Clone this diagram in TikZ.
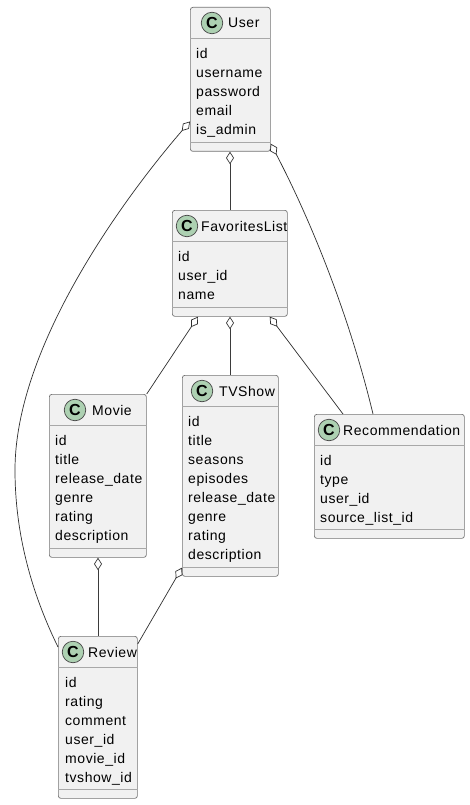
\documentclass[tikz,border=0pt]{standalone}
\usepackage{fontspec}
\setmainfont{Liberation Sans}[LetterSpace=4]
\usetikzlibrary{arrows.meta,calc}
\definecolor{boxfill}{HTML}{F1F1F1}
\definecolor{edge}{HTML}{181818}
\definecolor{rule}{HTML}{A8A8A8}
\definecolor{spot}{HTML}{ADD1B2}
\tikzset{
  x=1pt,y=-1pt,
  classbox/.style={draw=edge!60,line width=0.7pt,fill=boxfill,rounded corners=2.5pt,anchor=north west,inner sep=0pt},
  rulex/.style={draw=rule,line width=1.1pt},
  rulethin/.style={draw=rule,line width=1pt},
  spotc/.style={circle,draw=edge!80,line width=0.7pt,fill=spot,minimum size=21.5pt,inner sep=0pt,font=\fontsize{16}{16}\selectfont\bfseries},
  title/.style={anchor=base west,inner sep=0pt,font=\fontsize{14}{14}\selectfont},
  field/.style={anchor=base west,inner sep=0pt,font=\fontsize{14}{14}\selectfont},
  link/.style={draw=edge!90,line width=0.7pt},
  vlink/.style={draw=edge!85,line width=1pt},
  agg/.style={{Diamond[open,fill=white,length=12.5pt,width=8pt,line width=0.7pt]}-},
}
\newcommand{\classnode}[9]{%
  % #1 name, #2 left, #3 top, #4 width, #5 height, #6 title, #7 spot x, #8 footer line offset, #9 title x
  \node[classbox,minimum width=#4pt,minimum height=#5pt] (#1) at (#2,#3) {};
  \draw[rulex] ($(#1.north west)+(0,31.5)$) -- ($(#1.north east)+(0,31.5)$);
  \draw[rulethin] ($(#1.north west)+(0,#8)$) -- ($(#1.north east)+(0,#8)$);
  \node[spotc] (#1spot) at ($(#1.north west)+(#7,16)$) {C};
  \node[title] (#1title) at ($(#1.north west)+(#9,21)$) {#6};
}
\newcommand{\fieldlist}[3]{%
  % #1 name, #2 x offset, #3 list
  \foreach \t [count=\i from 0] in {#3} {
    \node[field] (#1f\i) at ($(#1.north west)+(#2,51.2+19*\i)$) {\t};
  }
}
\begin{document}
\begin{tikzpicture}
\useasboundingbox (0,0) rectangle (470,805);
\fill[white] (0,0) rectangle (470,805);
\classnode{user}{190}{7}{80}{144}{User}{22}{135.5}{38}
\fieldlist{user}{6}{id,username,password,email,is\_admin}
\classnode{fav}{172}{210}{115}{106}{FavoritesList}{15}{97.5}{29}
\fieldlist{fav}{6}{id,user\_id,name}
\classnode{movie}{49}{394}{97}{163}{Movie}{26}{154.5}{43}
\fieldlist{movie}{6}{id,title,release\_date,genre,rating,description}
\classnode{tv}{182}{375}{96}{201}{TVShow}{20}{192.5}{37}
\fieldlist{tv}{6}{id,title,seasons,episodes,release\_date,genre,rating,description}
\classnode{rec}{314}{414}{150}{124}{Recommendation}{15}{115.5}{29}
\fieldlist{rec}{6}{id,type,user\_id,source\_list\_id}
\classnode{rev}{58}{636}{79}{162}{Review}{15}{153.5}{30}
\fieldlist{rev}{7}{id,rating,comment,user\_id,movie\_id,tvshow\_id}
% named connector ends
\coordinate (uL) at ($(user.north west)+(0,114.5)$);
\coordinate (uB) at ($(user.south west)+(40,0)$);
\coordinate (uR) at ($(user.south east)+(0,-8)$);
\coordinate (fT) at ($(fav.north west)+(58,0)$);
\coordinate (fL) at ($(fav.south west)+(26,0)$);
\coordinate (fB) at ($(fav.south west)+(58,0)$);
\coordinate (fR) at ($(fav.south east)+(-18,0)$);
\coordinate (mT) at ($(movie.north east)+(0,0)$);
\coordinate (mB) at ($(movie.south west)+(49,0)$);
\coordinate (tT) at ($(tv.north west)+(48,0)$);
\coordinate (tL) at ($(tv.south west)+(0,-9)$);
\coordinate (rT1) at ($(rec.north west)+(29,0)$);
\coordinate (rT2) at ($(rec.north west)+(59,0)$);
\coordinate (vT) at ($(rev.north west)+(40,0)$);
\coordinate (vL) at ($(rev.north west)+(0,11)$);
\coordinate (vR) at ($(rev.north east)+(0,8)$);
\draw[vlink,agg] (uB) -- (fT);
\draw[vlink,agg] (fB) -- (tT);
\draw[link,agg] (fL) -- (mT);
\draw[link,agg] (fR) -- (rT1);
\draw[vlink,agg] (mB) -- (vT);
\draw[link,agg] (tL) -- (vR);
\draw[link,agg] (uR) .. controls (308,215) and (348,310) .. (rT2);
\draw[link,agg] (uL) .. controls (135,185) and (15,340) .. (15,470) .. controls (15,540) and (35,600) .. (vL);
\end{tikzpicture}
\end{document}
